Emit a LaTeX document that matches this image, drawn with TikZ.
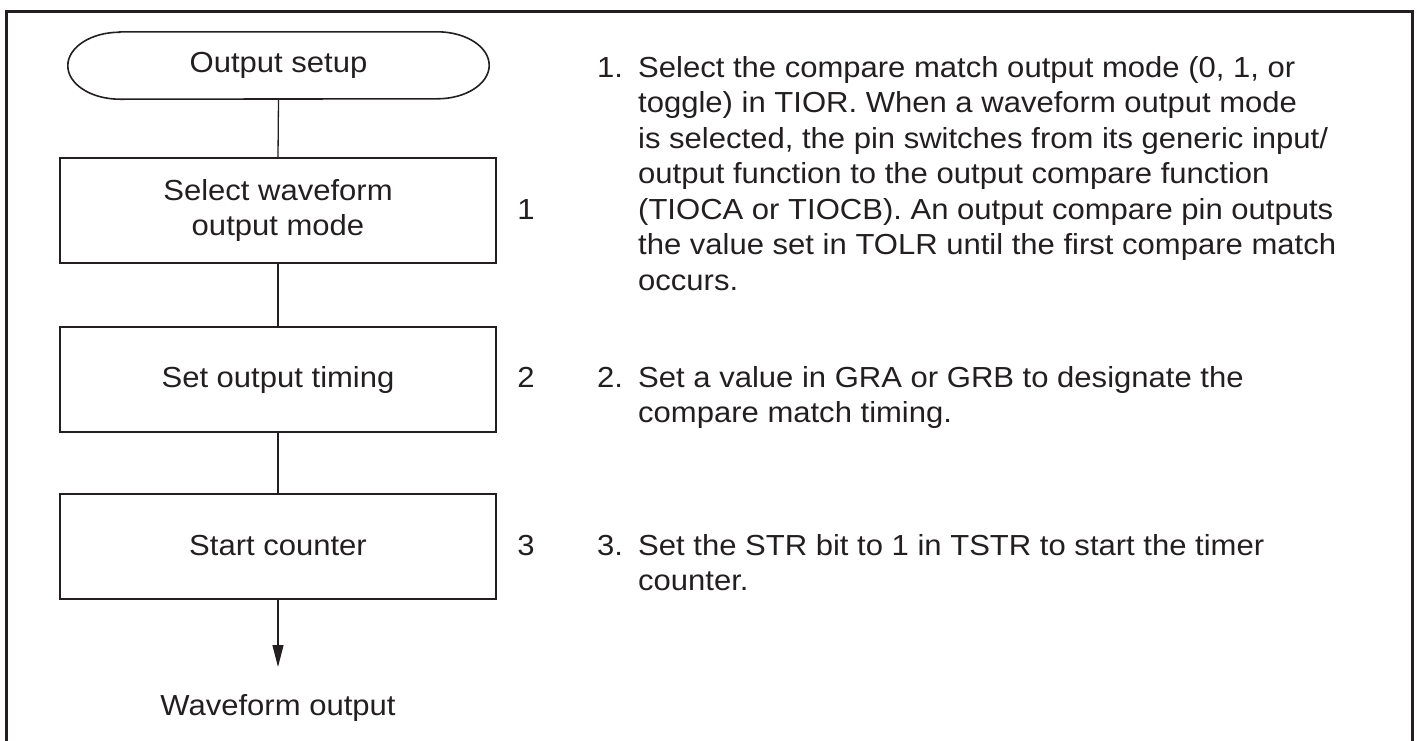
\documentclass[tikz,border=0pt]{standalone}
\usepackage{fontspec}
\setmainfont{Liberation Sans}[FakeStretch=1.07]
\usetikzlibrary{arrows.meta}
\definecolor{ink}{RGB}{35,31,32}
\begin{document}
\begin{tikzpicture}[x=1pt,y=-1pt,
  every node/.style={text=ink, font=\fontsize{29}{35.5}\selectfont, inner sep=0pt},
  box/.style={draw=ink, line width=2pt, minimum width=436pt, minimum height=105pt, align=center},
  link/.style={draw=ink, line width=1.3pt},
  frame/.style={draw=ink, line width=3pt},
  para/.style={anchor=base west}]
\useasboundingbox (0,0) rectangle (1417,740);
\draw[frame] (6.5,745) -- (6.5,11) -- (1412.5,11) -- (1412.5,745);

% terminator
\node (start) at (278.5,65.5) [minimum width=421pt, minimum height=67pt] {Output setup};
\draw[ink, line width=1.6pt] ([xshift=52pt]start.north west) -- ([xshift=-52pt]start.north east)
  arc[start angle=90, end angle=-90, x radius=52pt, y radius=33.5pt]
  -- ([xshift=52pt]start.south west)
  arc[start angle=270, end angle=90, x radius=52pt, y radius=33.5pt] -- cycle;

% boxes
\node[box] (b1) at (278,210.5) {Select waveform\\output mode};
\node[box] (b2) at (278,379.5) {Set output timing};
\node[box] (b3) at (278,546) {Start counter};

% connectors
\draw[link] (start.south) -- (b1.north);
\draw[link] (b1.south) -- (b2.north);
\draw[link] (b2.south) -- (b3.north);
\coordinate (tip) at (278,667);
\draw[link, -{Triangle[length=22pt,width=11pt]}] (b3.south) -- (tip);
\node[anchor=base] (wout) at (278,715) {Waveform output};

% step numbers
\node[anchor=base] (n1) at (526,219) {1};
\node[anchor=base] (n2) at (526,387) {2};
\node[anchor=base] (n3) at (526,555) {3};

% notes
\node[para] (m1) at (597,77) {1.};
\node[para] (t1) at (638,77) {\parbox[t]{760pt}{\raggedright
Select the compare match output mode (0, 1, or\\
toggle) in TIOR. When a waveform output mode\\
is selected, the pin switches from its generic input/\\
output function to the output compare function\\
(TIOCA or TIOCB). An output compare pin outputs\\
the value set in TOLR until the first compare match\\
occurs.}};
\node[para] (m2) at (597,387) {2.};
\node[para] (t2) at (638,387) {\parbox[t]{760pt}{\raggedright
Set a value in GRA or GRB to designate the\\
compare match timing.}};
\node[para] (m3) at (597,555) {3.};
\node[para] (t3) at (638,555) {\parbox[t]{760pt}{\raggedright
Set the STR bit to 1 in TSTR to start the timer\\
counter.}};
\end{tikzpicture}
\end{document}
